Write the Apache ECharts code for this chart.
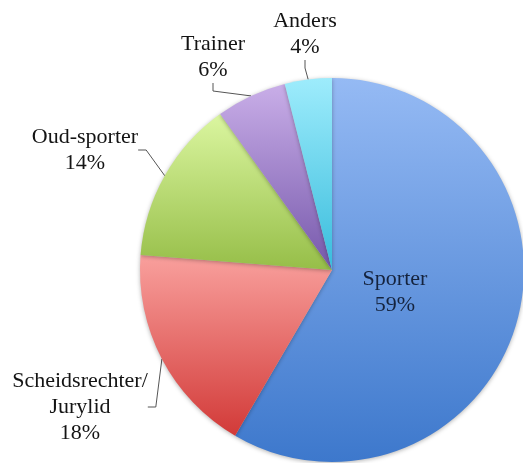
<!DOCTYPE html>
<html>
<head>
<meta charset="utf-8">
<script src="https://cdn.jsdelivr.net/npm/echarts@6/dist/echarts.min.js"></script>
<style>
  html, body { margin: 0; padding: 0; background: #fff; }
  #chart { width: 523px; height: 463px; }
</style>
</head>
<body>
<div id="chart"></div>
<script>
// categorieën en percentages
const categories = ['Sporter', 'Scheidsrechter/\nJurylid', 'Oud-sporter', 'Trainer', 'Anders'];
const values = [59, 18, 14, 6, 4];
// verloop per taartpunt: [boven, onder]
const gradients = [
  ['#95baf4', '#3d78cc'],
  ['#f9a09d', '#d23a38'],
  ['#dbf6a0', '#96be48'],
  ['#c9aee8', '#7658ab'],
  ['#9eecfc', '#38bcdc']
];
// plaats van de labels (midden van tekstblok)
const labelPos = [
  [395, 292],
  [80, 407],
  [85, 150],
  [213, 57],
  [305, 34]
];

const myChart = echarts.init(document.getElementById('chart'));

const option = {
  animation: false,
  series: [
    {
      type: 'pie',
      center: [332, 270],
      radius: 192,
      startAngle: 90,
      clockwise: true,
      avoidLabelOverlap: false,
      label: {
        show: true,
        formatter: function (p) {
          return p.name + '\n' + p.value + '%';
        },
        fontFamily: 'Liberation Serif',
        fontSize: 22,
        lineHeight: 26,
        color: '#141414',
        align: 'center'
      },
      labelLine: {
        show: true,
        length: 12,
        length2: 8,
        lineStyle: { color: '#555', width: 1 }
      },
      labelLayout: function (params) {
        const p = labelPos[params.dataIndex];
        return { x: p[0], y: p[1], align: 'center', verticalAlign: 'middle' };
      },
      itemStyle: {
        borderWidth: 0,
        shadowBlur: 4,
        shadowOffsetY: 1,
        shadowColor: 'rgba(0,0,0,0.3)'
      },
      data: categories.map(function (name, i) {
        const item = {
          name: name,
          value: values[i],
          itemStyle: {
            color: new echarts.graphic.LinearGradient(0, 0, 0, 1, [
              { offset: 0, color: gradients[i][0] },
              { offset: 1, color: gradients[i][1] }
            ])
          }
        };
        if (i === 0) {
          item.label = { position: 'inside', color: '#15233d' };
          item.labelLine = { show: false };
        }
        return item;
      })
    }
  ]
};

myChart.setOption(option);
</script>
</body>
</html>
